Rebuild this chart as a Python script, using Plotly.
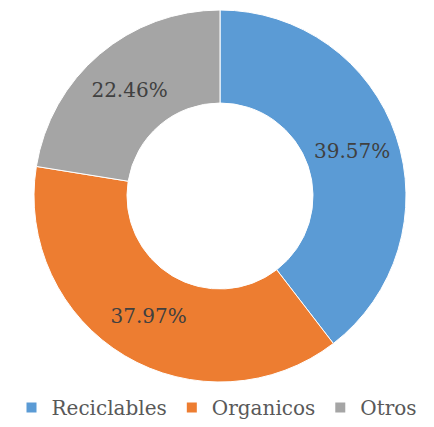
import plotly.graph_objects as go

categories = ["Reciclables", "Organicos", "Otros"]
values = [39.57, 37.97, 22.46]
colors = ["#5B9BD5", "#ED7D31", "#A5A5A5"]

W, H = 434, 427
cx, cy, r = 220, 196, 186
FONT = "DejaVu Serif"

fig = go.Figure(go.Pie(
    labels=categories,
    values=values,
    hole=0.5,
    sort=False,
    direction="clockwise",
    rotation=0,
    marker=dict(colors=colors, line=dict(color="white", width=1)),
    texttemplate="%{value:.2f}%",
    textposition="inside",
    insidetextorientation="horizontal",
    textfont=dict(family=FONT, size=20, color="#404040"),
    domain=dict(x=[(cx - r) / W, (cx + r) / W], y=[(H - cy - r) / H, (H - cy + r) / H]),
    hoverinfo="label+percent",
))

fig.update_layout(
    width=W, height=H,
    margin=dict(l=0, r=0, t=0, b=0),
    paper_bgcolor="white",
    plot_bgcolor="white",
    showlegend=True,
    legend=dict(
        orientation="h",
        x=0.5, xanchor="center",
        y=0.0, yanchor="bottom",
        font=dict(family=FONT, size=20, color="#595959"),
        itemsizing="constant",
        traceorder="normal",
    ),
)

fig.write_html("out.html")
